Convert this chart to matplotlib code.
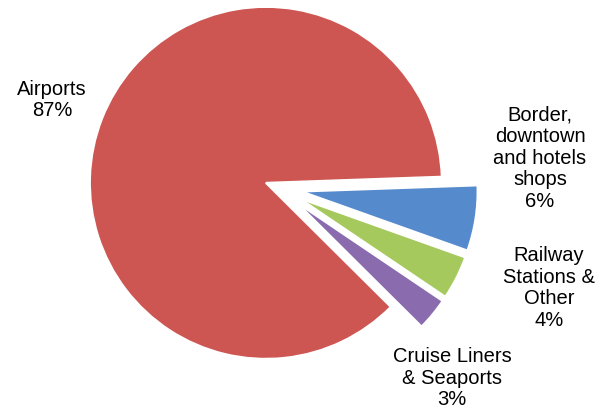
import matplotlib

matplotlib.use("Agg")

import matplotlib.pyplot as plt

plt.rcParams["font.family"] = ["Liberation Sans", "DejaVu Sans"]

labels = ["Airports", "Border,\ndowntown\nand hotels\nshops", "Railway\nStations &\nOther", "Cruise Liners\n& Seaports"]
shares = [87, 6, 4, 3]
colors = ["#CD5652", "#558BCD", "#A6C95E", "#8A6BAE"]
explode = [0.08, 0.13, 0.13, 0.13]

# label centres in pixels of the 600x411 picture
label_px = [(52, 100), (540, 158), (549, 288), (452, 378)]

CX, CY, R = 279, 188, 176  # pie centre and radius in pixels


def to_data(px, py):
    return (px - CX) / R, (CY - py) / R


def main() -> None:
    fig = plt.figure(figsize=(6.0, 4.11), dpi=100)
    ax = fig.add_axes([0, 0, 1, 1])
    ax.pie(
        shares,
        colors=colors,
        explode=explode,
        startangle=-44.8,
        counterclock=False,
        radius=1.0,
        wedgeprops=dict(edgecolor="white", linewidth=1.5),
    )
    for lab, val, (px, py) in zip(labels, shares, label_px):
        x, y = to_data(px, py)
        ax.text(x, y, f"{lab}\n{val}%", ha="center", va="center",
                fontsize=14.5, linespacing=1.18, color="black")
    ax.set_xlim(-CX / R, (600 - CX) / R)
    ax.set_ylim(-(411 - CY) / R, CY / R)
    ax.set_aspect("auto")
    ax.axis("off")
    fig.savefig("out.png", dpi=100)
    plt.close(fig)


if __name__ == "__main__":
    main()
